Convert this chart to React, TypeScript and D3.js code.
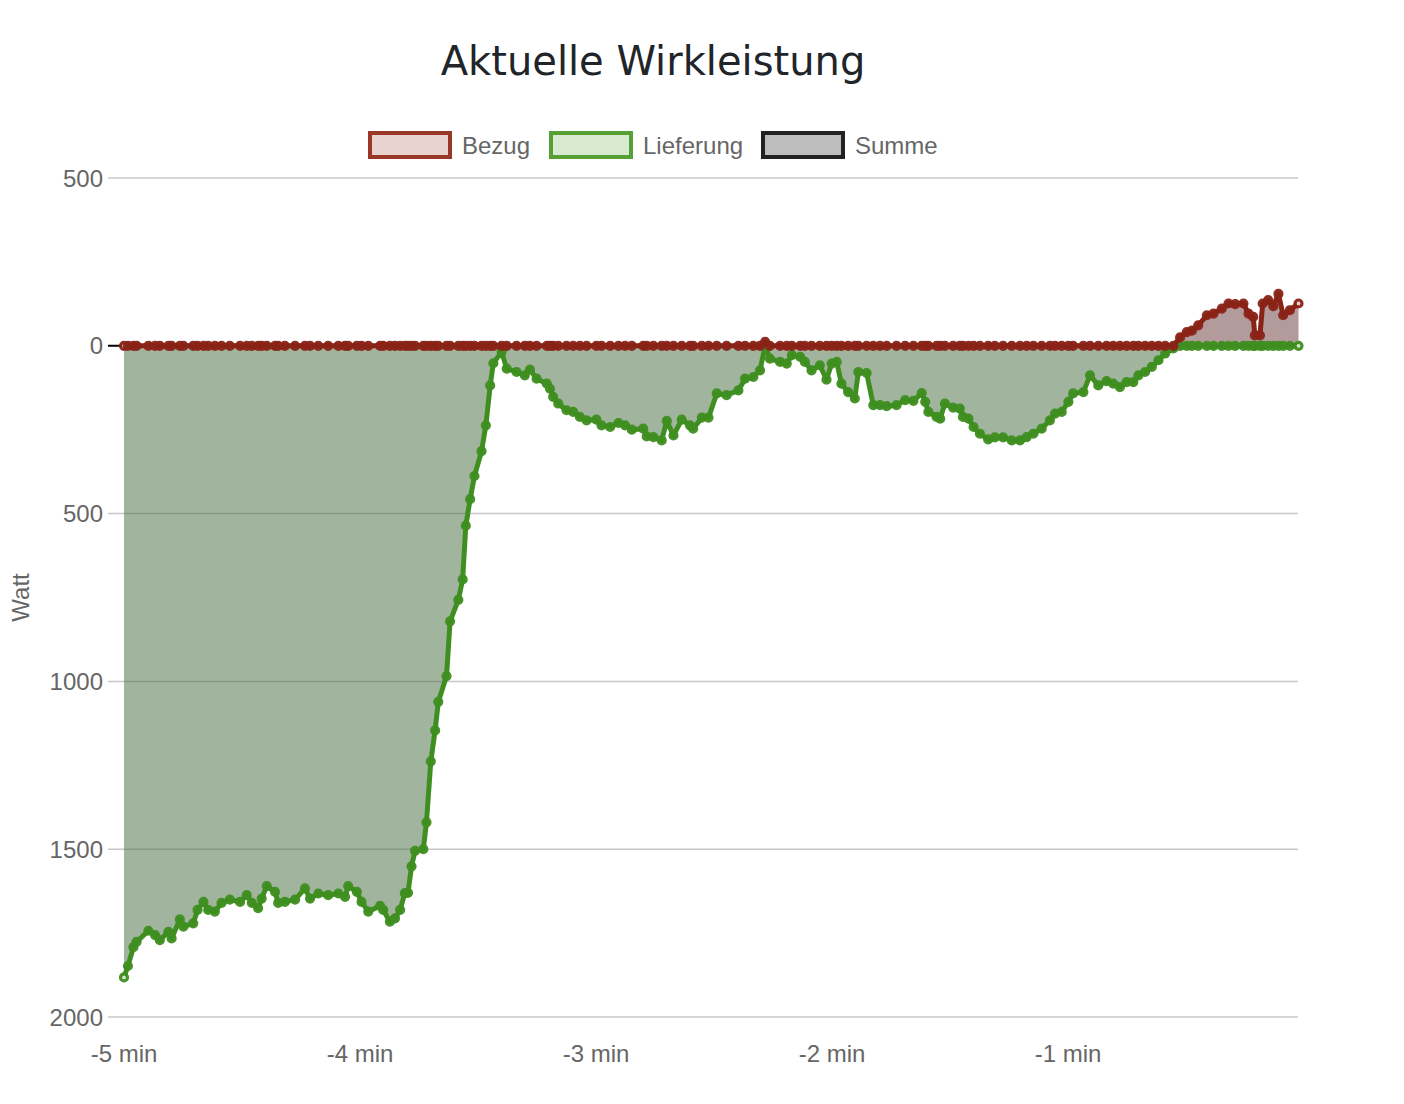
import React from "react";
import * as d3 from "d3";

// time in seconds relative to now
const timeSec = [
  -300, -299, -297.6, -296.8, -293.8, -292.1, -290.9, -288.7, -287.9, -285.8,
  -284.9, -282.4, -281.3, -279.8, -278.6, -276.9, -275.2, -273.1, -270.5, -268.8,
  -267.5, -265.9, -265.0, -263.7, -261.6, -260.8, -259.1, -256.5, -254.0, -252.7,
  -250.6, -248.1, -245.5, -243.8, -243.0, -240.8, -239.6, -237.9, -234.9, -234.1,
  -232.4, -231.1, -229.8, -228.6, -227.8, -226.9, -226.0, -223.9, -223.1, -222.0,
  -220.9, -220.1, -218.0, -217.1, -215.0, -213.9, -213.1, -212.0, -210.9, -209.1,
  -208.0, -206.9, -206.1, -204.0, -202.7, -200.2, -198.1, -196.8, -195.1, -192.5,
  -191.7, -190.9, -189.6, -187.5, -185.8, -184.1, -182.4, -179.9, -178.6, -176.4,
  -174.3, -172.6, -170.9, -168.0, -167.1, -165.4, -163.3, -162.0, -160.3, -158.2,
  -156.1, -155.3, -153.1, -151.4, -149.3, -146.8, -143.8, -142.1, -140.0, -138.3,
  -137.0, -135.8, -133.2, -131.5, -130.2, -128.1, -126.9, -125.2, -123.1, -121.4,
  -120.1, -118.8, -117.6, -115.9, -114.2, -113.3, -111.2, -109.5, -107.8, -106.1,
  -103.6, -101.4, -99.3, -97.2, -96.3, -95.5, -93.4, -92.5, -91.3, -89.2,
  -87.5, -86.7, -85.3, -84.0, -82.4, -80.3, -78.6, -76.5, -74.3, -72.2,
  -70.5, -68.8, -66.7, -64.6, -63.3, -61.6, -59.9, -58.7, -56.1, -54.4,
  -52.3, -50.2, -48.5, -46.8, -45.1, -43.4, -42.1, -40.4, -38.7, -37.0,
  -35.3, -33.2, -31.5, -29.8, -28.5, -26.9, -24.7, -23.0, -20.9, -19.2,
  -17.5, -15.4, -14.1, -12.9, -12.5, -11.2, -10.5, -9.1, -7.8, -6.5,
  -5.3, -3.6, -1.4,
];

const lieferung = [
  -1882, -1848, -1792, -1776, -1743, -1756, -1771, -1746, -1766, -1709,
  -1731, -1721, -1681, -1657, -1681, -1686, -1660, -1650, -1657, -1637,
  -1660, -1676, -1647, -1610, -1627, -1660, -1657, -1650, -1617, -1647,
  -1632, -1637, -1632, -1642, -1610, -1627, -1657, -1686, -1669, -1681,
  -1716, -1706, -1681, -1631, -1630, -1551, -1505, -1500, -1420, -1238,
  -1146, -1061, -984, -821, -757, -696, -536, -457, -388, -314,
  -237, -118, -52, -18, -68, -78, -88, -71, -98, -113,
  -128, -152, -172, -192, -197, -212, -222, -220, -237, -242,
  -230, -237, -250, -247, -270, -272, -282, -224, -267, -220,
  -237, -247, -214, -214, -142, -147, -133, -98, -93, -73,
  0, -38, -48, -53, -28, -33, -48, -73, -58, -101,
  -53, -48, -113, -138, -157, -78, -81, -177, -177, -180,
  -177, -162, -164, -141, -167, -197, -212, -217, -172, -184,
  -187, -212, -217, -242, -262, -279, -273, -273, -282, -282,
  -272, -262, -247, -222, -202, -197, -167, -142, -138, -88,
  -118, -105, -113, -123, -108, -108, -88, -78, -63, -43,
  -23, -8, 0, 0, 0, 0, 0, 0, 0, 0,
  0, 0, 0, 0, 0, 0, 0, 0, 0, 0,
  0, 0, 0,
];

const bezug = [
  0, 0, 0, 0, 0, 0, 0, 0, 0, 0,
  0, 0, 0, 0, 0, 0, 0, 0, 0, 0,
  0, 0, 0, 0, 0, 0, 0, 0, 0, 0,
  0, 0, 0, 0, 0, 0, 0, 0, 0, 0,
  0, 0, 0, 0, 0, 0, 0, 0, 0, 0,
  0, 0, 0, 0, 0, 0, 0, 0, 0, 0,
  0, 0, 0, 0, 0, 0, 0, 0, 0, 0,
  0, 0, 0, 0, 0, 0, 0, 0, 0, 0,
  0, 0, 0, 0, 0, 0, 0, 0, 0, 0,
  0, 0, 0, 0, 0, 0, 0, 0, 0, 0,
  12, 0, 0, 0, 0, 0, 0, 0, 0, 0,
  0, 0, 0, 0, 0, 0, 0, 0, 0, 0,
  0, 0, 0, 0, 0, 0, 0, 0, 0, 0,
  0, 0, 0, 0, 0, 0, 0, 0, 0, 0,
  0, 0, 0, 0, 0, 0, 0, 0, 0, 0,
  0, 0, 0, 0, 0, 0, 0, 0, 0, 0,
  0, 0, 25, 41, 45, 61, 91, 96, 111, 126,
  124, 126, 96, 86, 31, 31, 126, 136, 118, 155,
  91, 106, 126,
];

const yTicks = [500, 0, -500, -1000, -1500, -2000];
const xTicks = [-300, -240, -180, -120, -60];
const xTickLabels = ["-5 min", "-4 min", "-3 min", "-2 min", "-1 min"];
const legendNames = ["Bezug", "Lieferung", "Summe"];

const W = 1404;
const H = 1104;
const plotLeft = 124;
const plotRight = 1298;
const gridLeft = 108;

const RED = "#8a2317";
const GREEN = "#3f8f20";
const AXIS_FONT = "'Liberation Sans', Arial, Helvetica, sans-serif";

export default function App() {
  const x = d3.scaleLinear().domain([-300, 0]).range([plotLeft, 1304]);
  const y = d3.scaleLinear().domain([500, -2000]).range([178, 1017]);

  const lief = timeSec.map((t, i) => ({ t, v: lieferung[i] }));
  const bez = timeSec.map((t, i) => ({ t, v: bezug[i] }));

  const area = d3
    .area<{ t: number; v: number }>()
    .x((d) => x(d.t))
    .y0(y(0))
    .y1((d) => y(d.v));
  const line = d3
    .line<{ t: number; v: number }>()
    .x((d) => x(d.t))
    .y((d) => y(d.v));

  const legendColors = [
    { fill: "#e8d3d1", stroke: "#993829" },
    { fill: "#d9ead3", stroke: "#57a033" },
    { fill: "#bdbdbd", stroke: "#222222" },
  ];
  const legendX = [368, 549, 761];

  const markers = (
    data: { t: number; v: number }[],
    color: string,
    light: string
  ) =>
    data.map((d, i) => {
      const end = i === 0 || i === data.length - 1;
      return (
        <circle
          key={i}
          cx={x(d.t)}
          cy={y(d.v)}
          r={3.5}
          fill={end ? light : color}
          stroke={color}
          strokeWidth={3.2}
          opacity={0.95}
        />
      );
    });

  return (
    <svg width={W} height={H} style={{ display: "block", position: "absolute", left: 0, top: 0 }}>
      <rect width={W} height={H} fill="#ffffff" />
      <text
        x={653}
        y={75}
        textAnchor="middle"
        fontFamily="'DejaVu Sans', Verdana, sans-serif"
        fontSize={40}
        fill="#212529"
      >
        Aktuelle Wirkleistung
      </text>

      {legendNames.map((n, i) => (
        <g key={n}>
          <rect
            x={legendX[i] + 2}
            y={133}
            width={80}
            height={24}
            fill={legendColors[i].fill}
            stroke={legendColors[i].stroke}
            strokeWidth={4}
          />
          <text
            x={legendX[i] + 94}
            y={154}
            fontFamily={AXIS_FONT}
            fontSize={24}
            fill="#666"
          >
            {n}
          </text>
        </g>
      ))}

      {yTicks.map((v) => (
        <g key={v}>
          <line
            x1={gridLeft}
            x2={plotRight}
            y1={y(v)}
            y2={y(v)}
            stroke={v === 0 ? "#000" : "#c8c8c8"}
            strokeWidth={v === 0 ? 2 : 1.5}
          />
          <text
            x={103}
            y={y(v) + 8.5}
            textAnchor="end"
            fontFamily={AXIS_FONT}
            fontSize={24}
            fill="#666"
          >
            {Math.abs(v)}
          </text>
        </g>
      ))}

      <text
        transform={`translate(29, ${y(-750)}) rotate(-90)`}
        textAnchor="middle"
        fontFamily={AXIS_FONT}
        fontSize={24}
        fill="#666"
      >
        Watt
      </text>

      {xTicks.map((t, i) => (
        <text
          key={t}
          x={x(t)}
          y={1062}
          textAnchor="middle"
          fontFamily={AXIS_FONT}
          fontSize={24}
          fill="#666"
        >
          {xTickLabels[i]}
        </text>
      ))}

      <path d={area(lief) ?? ""} fill="rgb(67,107,61)" fillOpacity={0.5} />
      <path d={area(bez) ?? ""} fill="rgb(106,56,56)" fillOpacity={0.5} />

      <path d={line(lief) ?? ""} fill="none" stroke={GREEN} strokeWidth={5} strokeLinejoin="round" />
      {markers(lief, GREEN, "#d9ead3")}
      <path d={line(bez) ?? ""} fill="none" stroke={RED} strokeWidth={5} strokeLinejoin="round" />
      {markers(bez, RED, "#e8d3d1")}
    </svg>
  );
}
